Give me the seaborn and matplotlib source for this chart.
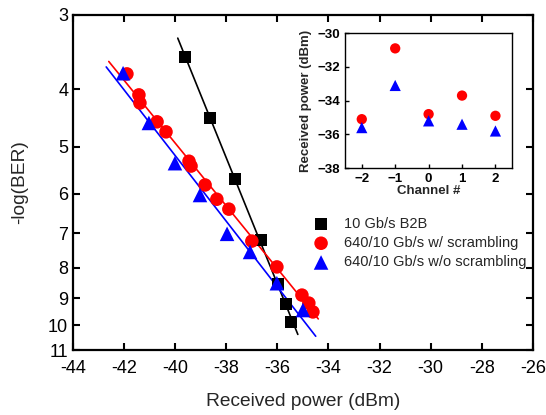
import numpy as np
import pandas as pd
import seaborn as sns
import matplotlib.pyplot as plt
from matplotlib.ticker import FixedLocator, NullLocator, FixedFormatter

# --- style ---
sns.set_style('ticks')
plt.rcParams['font.family'] = ['Liberation Sans', 'DejaVu Sans']

# --- data: BER curves ---
b2b_power = [-39.62, -38.64, -37.66, -36.64, -35.98, -35.67, -35.47]
b2b_ber = [3.53, 4.47, 5.67, 7.18, 8.51, 9.20, 9.87]

scr_power = [-41.89, -41.42, -41.38, -40.71, -40.36, -39.46, -39.38, -38.83,
             -38.37, -37.90, -37.00, -36.02, -35.04, -34.77, -34.61]
scr_ber = [3.77, 4.09, 4.22, 4.54, 4.72, 5.29, 5.39, 5.80,
           6.13, 6.37, 7.21, 7.97, 8.89, 9.17, 9.49]

noscr_power = [-42.04, -41.03, -40.01, -39.03, -37.97, -37.07, -36.02, -35.00]
noscr_ber = [3.76, 4.56, 5.33, 6.03, 7.01, 7.52, 8.49, 9.42]

# x-range over which each fit line is drawn
b2b_fit_range = [-39.9, -35.2]
scr_fit_range = [-42.6, -34.4]
noscr_fit_range = [-42.7, -34.5]

# --- data: inset ---
channels = [-2, -1, 0, 1, 2]
inset_scr = [-35.1, -30.9, -34.8, -33.7, -34.9]
inset_noscr = [-35.6, -33.1, -35.2, -35.4, -35.8]

y_ticks = [3, 4, 5, 6, 7, 8, 9, 10, 11]
x_ticks = [-44, -42, -40, -38, -36, -34, -32, -30, -28, -26]

series = [
    ('10 Gb/s B2B', b2b_power, b2b_ber, b2b_fit_range, 'black', 's', 70),
    ('640/10 Gb/s w/ scrambling', scr_power, scr_ber, scr_fit_range, '#ff0000', 'o', 95),
    ('640/10 Gb/s w/o scrambling', noscr_power, noscr_ber, noscr_fit_range, '#0000ff', '^', 110),
]

fig = plt.figure(figsize=(5.46, 4.15), dpi=100)
ax = fig.add_axes([0.1337, 0.1566, 0.8423, 0.8073])
ax.set_yscale('log')

for label, px, py, rng, color, marker, size in series:
    # straight fit on the log(-log BER) scale
    k, b = np.polyfit(px, np.log10(py), 1)
    xx = np.array(rng)
    ax.plot(xx, 10 ** (k * xx + b), color=color, lw=1.2, zorder=2)
    df = pd.DataFrame({'power': px, 'ber': py})
    sns.scatterplot(data=df, x='power', y='ber', ax=ax, color=color, marker=marker,
                    s=size, edgecolor='none', label=label, zorder=3)

ax.set_xlim(-44, -26)
ax.set_ylim(11, 3)
ax.xaxis.set_major_locator(FixedLocator(x_ticks))
ax.yaxis.set_major_locator(FixedLocator(y_ticks))
ax.yaxis.set_major_formatter(FixedFormatter([str(t) for t in y_ticks]))
ax.yaxis.set_minor_locator(NullLocator())
ax.set_xticklabels([str(t) for t in x_ticks])
ax.tick_params(direction='in', length=5, width=1.5, top=True, right=True,
               labelsize=13, colors='black')
ax.tick_params(axis='x', pad=7)
for sp in ax.spines.values():
    sp.set_linewidth(1.6)
    sp.set_color('black')
ax.set_xlabel('Received power (dBm)', fontsize=13.8, labelpad=12)
ax.set_ylabel('-log(BER)', fontsize=13.8, labelpad=14)

leg = ax.legend(loc='upper left', bbox_to_anchor=(0.495, 0.415), frameon=False,
                fontsize=10.5, handletextpad=0.6, labelspacing=0.36,
                markerscale=1.0, borderaxespad=0)

# --- inset ---
ins = fig.add_axes([0.632, 0.595, 0.306, 0.325])
df_in = pd.DataFrame({'ch': channels, 'scr': inset_scr, 'noscr': inset_noscr})
sns.scatterplot(data=df_in, x='ch', y='scr', ax=ins, color='#ff0000', marker='o',
                s=55, edgecolor='none', zorder=3)
sns.scatterplot(data=df_in, x='ch', y='noscr', ax=ins, color='#0000ff', marker='^',
                s=65, edgecolor='none', zorder=3)
ins.set_xlim(-2.5, 2.5)
ins.set_ylim(-38, -30)
ins.set_xticks(channels)
ins.set_yticks([-38, -36, -34, -32, -30])
ins.tick_params(direction='in', length=3, width=1, labelsize=9.5, colors='black')
for t in ins.get_xticklabels() + ins.get_yticklabels():
    t.set_fontweight('bold')
for sp in ins.spines.values():
    sp.set_linewidth(1.0)
    sp.set_color('black')
ins.set_xlabel('Channel #', fontsize=9.5, fontweight='bold', labelpad=0)
ins.set_ylabel('Received power (dBm)', fontsize=9.5, fontweight='bold', labelpad=4)

fig.savefig('out.png', dpi=100)
